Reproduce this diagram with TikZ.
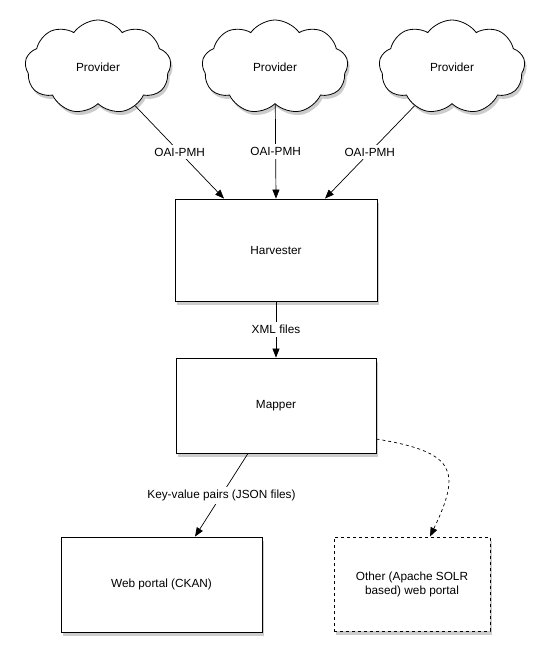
\documentclass[tikz,border=0pt]{standalone}
\usepackage{fontspec}
\setmainfont{Liberation Sans}
\usetikzlibrary{arrows.meta,shapes.symbols,shadows}
\tikzset{
    Shade/.style = {drop shadow={opacity=0.4,shadow xshift=2pt,shadow yshift=-3.5pt}},
    Cloud/.style = {cloud,draw,fill=white,cloud puffs=9,cloud puff arc=110,aspect=1.55,
        minimum width=146pt,minimum height=94pt,inner sep=0pt,Shade},
    Box/.style = {draw,fill=white,minimum width=200pt,minimum height=96pt,
        align=center,Shade},
    Label/.style = {fill=white,inner sep=3pt},
    Link/.style = {line width=0.7pt,-{Triangle[length=9pt,width=7pt]}}
}
\begin{document}
\begin{tikzpicture}[x=1pt,y=-1pt,line width=0.8pt,
        font=\fontsize{11.8}{14}\selectfont]
    \useasboundingbox (0,0) rectangle (549,656);
    % providers
    \foreach \X/\N in {98/1,275/2,452/3}
        {\node[Cloud] (P\N) at (\X,67) {Provider};}
    % processing chain
    \node[Box,minimum width=202pt,minimum height=102pt] (H) at (276,250) {Harvester};
    \node[Box,minimum height=95pt] (M) at (276,405.5) {Mapper};
    \node[Box,minimum width=201pt,minimum height=95pt] (W) at (161.5,584.5) {Web portal (CKAN)};
    \node[Box,dashed,minimum width=156pt,minimum height=94pt] (O) at (412,584)
        {Other (Apache SOLR\\based) web portal};
    \coordinate (H1) at ([xshift=-52pt]H.north);
    \coordinate (H2) at (H.north);
    \coordinate (H3) at ([xshift=49pt]H.north);
    \coordinate (M1) at ([xshift=-28pt]M.south);
    \coordinate (M2) at ([yshift=-33.5pt]M.east);
    \coordinate (W1) at ([xshift=33.5pt]W.north);
    \coordinate (O1) at ([xshift=18pt]O.north);
    % connectors
    \foreach \N in {1,2,3}
        {\draw[Link] (P\N) -- node[Label] {OAI-PMH} (H\N);}
    \draw[Link] (H) -- node[Label] {XML files} (M);
    \draw[Link] (M1) -- node[Label] {Key-value pairs (JSON files)} (W1);
    \draw[Link,dashed] (M2) .. controls (455,452) and (462,470) .. (O1);
\end{tikzpicture}
\end{document}
